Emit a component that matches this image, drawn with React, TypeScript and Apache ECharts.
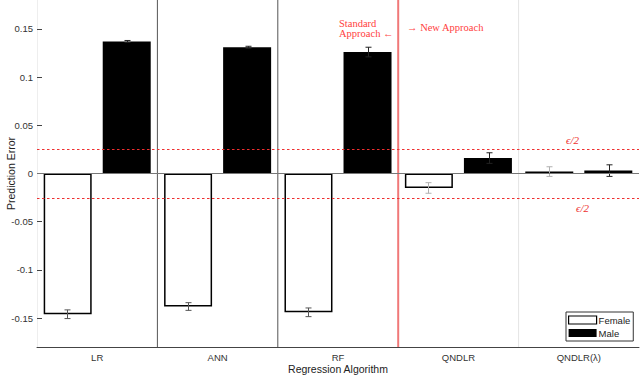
import React, { useEffect, useRef } from "react";
import * as echarts from "echarts";

const categories = ["LR", "ANN", "RF", "QNDLR", "QNDLR(\u03bb)"];
const femaleValues = [-0.146, -0.138, -0.144, -0.015, 0.002];
const maleValues = [0.137, 0.131, 0.126, 0.016, 0.003];
const femaleErr = [0.0045, 0.004, 0.0045, 0.0055, 0.005];
const maleErr = [0.001, 0.001, 0.005, 0.0055, 0.006];
const yTicks = [-0.15, -0.1, -0.05, 0, 0.05, 0.1, 0.15];
const thresholds = [0.025, -0.025];
const thresholdLabel = "\u03f5/2";
const separatorsAfter = [0, 1, 2, 3];

const FONT = "Liberation Sans, Arial, sans-serif";
const SERIF = "Liberation Serif, DejaVu Serif, serif";
const RED = "#ee3030";

export default function App() {
  const ref = useRef<HTMLDivElement>(null);
  useEffect(() => {
    if (!ref.current) return;
    const chart = echarts.init(ref.current, null, { renderer: "svg" });

    const errData = (vals: number[], errs: number[], side: number) =>
      vals.map((v, i) => [i, v - errs[i], v + errs[i], side]);

    const errRender = (params: any, api: any) => {
      const i = api.value(0);
      const lo = api.coord([i, api.value(1)]);
      const hi = api.coord([i, api.value(2)]);
      const side = api.value(3);
      const bw = api.size([1, 0])[0];
      const x = Math.round(lo[0] + side * bw * 0.25) + 0.5;
      let color = "#555";
      if (side > 0) color = "#222";
      if (side < 0 && i >= 3) color = "#b0b0b0";
      const cap = 3;
      return {
        type: "group",
        children: [
          { type: "line", shape: { x1: x, y1: lo[1], x2: x, y2: hi[1] }, style: { stroke: color, lineWidth: 1 } },
          { type: "line", shape: { x1: x - cap, y1: lo[1], x2: x + cap, y2: lo[1] }, style: { stroke: color, lineWidth: 1 } },
          { type: "line", shape: { x1: x - cap, y1: hi[1], x2: x + cap, y2: hi[1] }, style: { stroke: color, lineWidth: 1 } },
        ],
      };
    };

    const sepStyles = [
      { stroke: "#555", lineWidth: 1 },
      { stroke: "#555", lineWidth: 1 },
      { stroke: "#f07878", lineWidth: 2 },
      { stroke: "#e4e4e4", lineWidth: 1 },
    ];

    const option: any = {
      animation: false,
      grid: { left: 37, right: 1, top: 0, bottom: 28, containLabel: false, outerBoundsMode: "none" },
      legend: {
        orient: "vertical",
        left: 566,
        top: 312,
        itemWidth: 28,
        itemHeight: 8,
        itemGap: 3,
        padding: [3, 3, 3, 2],
        borderColor: "#333",
        borderWidth: 1,
        backgroundColor: "#fff",
        textStyle: { fontFamily: FONT, fontSize: 9.5, color: "#222", padding: [0, 0, 0, -3] },
        data: [
          { name: "Female", icon: "rect", itemStyle: { color: "#fff", borderColor: "#000", borderWidth: 1.2 } },
          { name: "Male", icon: "rect", itemStyle: { color: "#000" } },
        ],
      },
      xAxis: {
        type: "category",
        data: categories,
        name: "Regression Algorithm",
        nameLocation: "middle",
        nameGap: 16,
        nameMoveOverlap: false,
        nameTextStyle: { fontFamily: FONT, fontSize: 10.5, color: "#222" },
        axisLine: { onZero: false, lineStyle: { color: "#444", width: 1 } },
        axisTick: { alignWithLabel: true, inside: true, length: 5, lineStyle: { color: "#444" } },
        axisLabel: { fontFamily: FONT, fontSize: 9.5, color: "#333", margin: 5 },
        splitLine: { show: false },
      },
      yAxis: {
        type: "value",
        min: -0.18,
        max: 0.18,
        name: "Prediction Error",
        nameLocation: "middle",
        nameGap: 21,
        nameMoveOverlap: false,
        nameTextStyle: { fontFamily: FONT, fontSize: 10.5, color: "#222" },
        axisLine: { show: true, lineStyle: { color: "#eeeeee" } },
        axisTick: { show: true, inside: true, length: 5, customValues: yTicks, lineStyle: { color: "#444" } },
        axisLabel: { fontFamily: FONT, fontSize: 9.5, color: "#333", margin: 4, customValues: yTicks },
        splitLine: { show: false },
      },
      graphic: [
        {
          type: "text",
          left: 339,
          top: 18,
          style: {
            text: "Standard\nApproach \u2190",
            fill: "#ff4040",
            font: "10.5px " + SERIF,
            lineHeight: 10,
          },
        },
        {
          type: "text",
          left: 407,
          top: 22,
          style: { text: "\u2192 New Approach", fill: "#ff4040", font: "10.5px " + SERIF },
        },
      ],
      series: [
        {
          type: "custom",
          name: "separators",
          silent: true,
          z: 1,
          data: separatorsAfter.map((i) => [i]),
          renderItem: (params: any, api: any) => {
            const i = api.value(0);
            const c = api.coord([i, 0]);
            const bw = api.size([1, 0])[0];
            const x = c[0] + bw / 2;
            const cs = params.coordSys;
            return {
              type: "line",
              shape: { x1: x, y1: cs.y, x2: x, y2: cs.y + cs.height },
              style: sepStyles[params.dataIndex],
            };
          },
        },
        {
          type: "bar",
          name: "Female",
          data: femaleValues,
          barWidth: 48,
          barGap: "23%",
          z: 2,
          itemStyle: { color: "#fff", borderColor: "#000", borderWidth: 1.5 },
          markLine: {
            silent: true,
            symbol: "none",
            z: 5,
            precision: 4,
            lineStyle: { color: "#777", type: "solid", width: 1 },
            label: { show: false },
            data: [{ yAxis: 0 }],
          },
        },
        {
          type: "bar",
          name: "Male",
          data: maleValues,
          barWidth: 48,
          barGap: "23%",
          z: 2,
          itemStyle: { color: "#000" },
        },
        {
          type: "custom",
          name: "thresholds",
          silent: true,
          z: 5,
          data: thresholds.map((v) => [0, v]),
          renderItem: (params: any, api: any) => {
            const v = api.value(1);
            const p = api.coord([0, v]);
            const y = Math.round(p[1]) + 0.5;
            const cs = params.coordSys;
            const above = v > 0;
            return {
              type: "group",
              children: [
                {
                  type: "line",
                  shape: { x1: cs.x, y1: y, x2: cs.x + cs.width, y2: y },
                  style: { stroke: RED, lineWidth: 1, lineDash: [2.5, 2.5] },
                },
                {
                  type: "text",
                  x: cs.x + cs.width - (above ? 73 : 63),
                  y: above ? y - 4 : y + 4,
                  style: {
                    text: thresholdLabel,
                    fill: RED,
                    font: "italic 11px " + SERIF,
                    verticalAlign: above ? "bottom" : "top",
                    align: "left",
                  },
                },
              ],
            };
          },
        },
        {
          type: "custom",
          name: "femaleErr",
          z: 4,
          silent: true,
          data: errData(femaleValues, femaleErr, -1),
          renderItem: errRender,
        },
        {
          type: "custom",
          name: "maleErr",
          z: 4,
          silent: true,
          data: errData(maleValues, maleErr, 1),
          renderItem: errRender,
        },
      ],
    };
    chart.setOption(option);
    return () => chart.dispose();
  }, []);
  return <div ref={ref} style={{ width: 640, height: 375, position: "absolute", left: 0, top: 0, background: "#fff" }} />;
}
